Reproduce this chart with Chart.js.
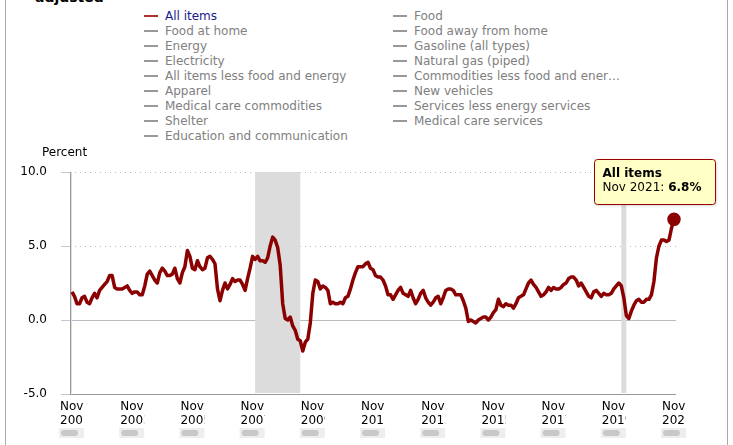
<!DOCTYPE html>
<html>
<head>
<meta charset="utf-8">
<script src="https://cdn.jsdelivr.net/npm/chart.js@4.4.0/dist/chart.umd.min.js"></script>
<style>
  body { margin: 0; background: #fff; font-family: "DejaVu Sans", Verdana, sans-serif; }
  #wrap { position: relative; width: 733px; height: 445px; overflow: hidden; }
  #frame { position: absolute; left: 5px; top: 0; width: 721px; height: 445px;
           border-left: 1px solid #aaa; border-right: 1px solid #aaa; }
  #title { position: absolute; left: 35px; top: -11px; font-weight: bold; font-size: 14px; color: #000; }
  .leg { position: absolute; font-size: 12px; color: #808080; white-space: nowrap; line-height: 15px; }
  .leg span.m { display: inline-block; width: 14px; height: 2px; background: #999;
                vertical-align: middle; margin-right: 7px; position: relative; top: -1px; }
  .leg.on { color: #1a1a8c; }
  .leg.on span.m { background: #b03030; }
  canvas { position: absolute; left: 0; top: 0; }
</style>
</head>
<body>
<div id="wrap">
  <div id="frame"></div>
  <div id="title">adjusted</div>
  <div id="legend"></div>
  <canvas id="cpi" width="733" height="445"></canvas>
</div>
<script>
// 12-month percent change, CPI-U, Nov 2001 .. Nov 2021
const allItems = [
  1.9, 1.6,
  1.1, 1.1, 1.5, 1.6, 1.2, 1.1, 1.5, 1.8, 1.5, 2.0, 2.2, 2.4,
  2.6, 3.0, 3.0, 2.2, 2.1, 2.1, 2.1, 2.2, 2.3, 2.0, 1.8, 1.9,
  1.9, 1.7, 1.7, 2.3, 3.1, 3.3, 3.0, 2.7, 2.5, 3.2, 3.5, 3.3,
  3.0, 3.0, 3.1, 3.5, 2.8, 2.5, 3.2, 3.6, 4.7, 4.3, 3.5, 3.4,
  4.0, 3.6, 3.4, 3.5, 4.2, 4.3, 4.1, 3.8, 2.1, 1.3, 2.0, 2.5,
  2.1, 2.4, 2.8, 2.6, 2.7, 2.7, 2.4, 2.0, 2.8, 3.5, 4.3, 4.1,
  4.3, 4.0, 4.0, 3.9, 4.2, 5.0, 5.6, 5.4, 4.9, 3.7, 1.1, 0.1,
  0.0, 0.2, -0.4, -0.7, -1.3, -1.4, -2.1, -1.5, -1.3, -0.2, 1.8, 2.7,
  2.6, 2.1, 2.3, 2.2, 2.0, 1.1, 1.2, 1.1, 1.1, 1.2, 1.1, 1.5,
  1.6, 2.1, 2.7, 3.2, 3.6, 3.6, 3.6, 3.8, 3.9, 3.5, 3.4, 3.0,
  2.9, 2.9, 2.7, 2.3, 1.7, 1.7, 1.4, 1.7, 2.0, 2.2, 1.8, 1.7,
  1.6, 2.0, 1.5, 1.1, 1.4, 1.8, 2.0, 1.5, 1.2, 1.0, 1.2, 1.5,
  1.6, 1.1, 1.5, 2.0, 2.1, 2.1, 2.0, 1.7, 1.7, 1.7, 1.3, 0.8,
  -0.1, 0.0, -0.1, -0.2, 0.0, 0.1, 0.2, 0.2, 0.0, 0.2, 0.5, 0.7,
  1.4, 1.0, 0.9, 1.1, 1.0, 1.0, 0.8, 1.1, 1.5, 1.6, 1.7, 2.1,
  2.5, 2.7, 2.4, 2.2, 1.9, 1.6, 1.7, 1.9, 2.2, 2.0, 2.2, 2.1,
  2.1, 2.2, 2.4, 2.5, 2.8, 2.9, 2.9, 2.7, 2.3, 2.5, 2.2, 1.9,
  1.6, 1.5, 1.9, 2.0, 1.8, 1.6, 1.8, 1.7, 1.7, 1.8, 2.1, 2.3,
  2.5, 2.3, 1.5, 0.3, 0.1, 0.6, 1.0, 1.3, 1.4, 1.2, 1.2, 1.4,
  1.4, 1.7, 2.6, 4.2, 5.0, 5.4, 5.4, 5.3, 5.4, 6.2, 6.8
];
const startYear = 2001, startMonth = 10; // Nov 2001
const monthNames = ['Jan','Feb','Mar','Apr','May','Jun','Jul','Aug','Sep','Oct','Nov','Dec'];
const monthLabels = allItems.map((v, i) => {
  const m = startMonth + i;
  return monthNames[m % 12] + ' ' + (startYear + Math.floor(m / 12));
});
const tickIdx = [0, 24, 48, 72, 96, 120, 144, 168, 192, 216, 240];
const yTicks = [-5, 0, 5, 10];
// recessions as month index ranges (from Nov 2001)
const recessions = [[-0.8, 0], [73, 91], [219, 221]];

const legendLeft = ['All items', 'Food at home', 'Energy', 'Electricity',
  'All items less food and energy', 'Apparel', 'Medical care commodities',
  'Shelter', 'Education and communication'];
const legendRight = ['Food', 'Food away from home', 'Gasoline (all types)',
  'Natural gas (piped)', 'Commodities less food and ener\u2026', 'New vehicles',
  'Services less energy services', 'Medical care services'];

// legend
const legEl = document.getElementById('legend');
function addLegend(list, left) {
  list.forEach((name, i) => {
    const d = document.createElement('div');
    d.className = 'leg' + (name === 'All items' ? ' on' : '');
    d.style.left = left + 'px';
    d.style.top = (9 + i * 15) + 'px';
    d.innerHTML = '<span class="m"></span>' + name;
    legEl.appendChild(d);
  });
}
addLegend(legendLeft, 144);
addLegend(legendRight, 393);

const lineColor = '#8b0000';

const backdrop = {
  id: 'backdrop',
  beforeDatasetsDraw(chart) {
    const { ctx, chartArea: a, scales: { x, y } } = chart;
    ctx.save();
    // grid lines
    yTicks.forEach(t => {
      const py = Math.round(y.getPixelForValue(t)) + 0.5;
      ctx.beginPath();
      ctx.lineWidth = 1;
      if (t > 0) { ctx.strokeStyle = '#bbb'; ctx.setLineDash([1, 4]); }
      else if (t === 0) { ctx.strokeStyle = '#bbb'; ctx.setLineDash([]); }
      else { ctx.strokeStyle = '#999'; ctx.setLineDash([]); }
      ctx.moveTo(a.left, py); ctx.lineTo(a.right, py);
      ctx.stroke();
      // tick mark
      ctx.setLineDash([]);
      ctx.strokeStyle = '#c2c8da';
      ctx.beginPath();
      ctx.moveTo(a.left - 9, py); ctx.lineTo(a.left, py);
      ctx.stroke();
    });
    // recession shading
    ctx.fillStyle = '#dcdcdc';
    recessions.forEach(([s, e]) => {
      const x0 = x.getPixelForValue(s), x1 = x.getPixelForValue(e);
      ctx.fillRect(x0, a.top, x1 - x0, a.bottom - a.top - 1);
    });
    // left axis
    ctx.strokeStyle = '#999';
    ctx.beginPath();
    ctx.moveTo(a.left + 0.5, a.top); ctx.lineTo(a.left + 0.5, a.bottom);
    ctx.stroke();
    ctx.restore();
  },
  afterDraw(chart) {
    const { ctx, chartArea: a, scales: { x, y } } = chart;
    ctx.save();
    // "Percent" title
    ctx.font = '12px "DejaVu Sans"';
    ctx.fillStyle = '#000';
    ctx.textBaseline = 'middle';
    ctx.fillText('Percent', 42, 153);
    // x tick labels, clipped like the original
    tickIdx.forEach(i => {
      const px = x.getPixelForValue(i);
      const lbl = monthLabels[i].split(' ');
      ctx.save();
      ctx.beginPath();
      ctx.rect(px - 13, a.bottom + 2, 25, 30);
      ctx.clip();
      ctx.fillStyle = '#000';
      ctx.textAlign = 'left';
      ctx.fillText(lbl[0], px - 12, a.bottom + 13);
      ctx.fillText(lbl[1], px - 12, a.bottom + 27);
      ctx.restore();
      // little scroll pill
      ctx.fillStyle = '#eeeeee';
      ctx.fillRect(px - 13, a.bottom + 34, 25, 10);
      ctx.fillStyle = '#c8c8c8';
      ctx.beginPath();
      ctx.roundRect(px - 11, a.bottom + 36, 17, 6, 3);
      ctx.fill();
    });
    // tooltip for the last point
    const last = allItems.length - 1;
    const px = x.getPixelForValue(last), py = y.getPixelForValue(allItems[last]);
    const bx = Math.round(px - 80) + 0.5, by = Math.round(py - 60) + 0.5;
    ctx.shadowColor = 'rgba(0,0,0,0.2)';
    ctx.shadowBlur = 3; ctx.shadowOffsetX = 1; ctx.shadowOffsetY = 1;
    ctx.fillStyle = '#ffffc6';
    ctx.beginPath();
    ctx.roundRect(bx, by, 121, 45, 3);
    ctx.fill();
    ctx.shadowColor = 'transparent';
    ctx.strokeStyle = '#990000';
    ctx.lineWidth = 1;
    ctx.stroke();
    ctx.fillStyle = '#000';
    ctx.textAlign = 'left';
    ctx.font = 'bold 12px "DejaVu Sans"';
    ctx.fillText('All items', bx + 8, by + 14);
    ctx.font = '12px "DejaVu Sans"';
    const pre = monthLabels[last] + ': ';
    ctx.fillText(pre, bx + 8, by + 28);
    const w = ctx.measureText(pre).width;
    ctx.font = 'bold 12px "DejaVu Sans"';
    ctx.fillText(allItems[last].toFixed(1) + '%', bx + 8 + w, by + 28);
    ctx.restore();
  }
};

new Chart(document.getElementById('cpi'), {
  type: 'line',
  data: {
    datasets: [{
      label: 'All items',
      data: allItems.map((v, i) => ({ x: i, y: v })),
      borderColor: lineColor,
      backgroundColor: lineColor,
      borderWidth: 3.5,
      tension: 0,
      clip: false,
      pointRadius: allItems.map((v, i) => i === allItems.length - 1 ? 5 : 0),
      pointHoverRadius: 0,
      borderJoinStyle: 'round'
    }]
  },
  options: {
    responsive: false,
    animation: false,
    devicePixelRatio: 1,
    layout: { padding: { left: 0, top: 172, right: 57, bottom: 51 } },
    plugins: { legend: { display: false }, tooltip: { enabled: false } },
    events: [],
    scales: {
      x: {
        type: 'linear', min: -0.8, max: 240.8,
        grid: { display: false }, border: { display: false },
        ticks: { display: false },
        afterFit: s => { s.height = 0; }
      },
      y: {
        min: -5, max: 10,
        grid: { display: false }, border: { display: false },
        ticks: {
          stepSize: 5, padding: 15, color: '#000',
          font: { family: 'DejaVu Sans', size: 12 },
          callback: v => v.toFixed(1)
        },
        afterFit: s => { s.width = 70; }
      }
    }
  },
  plugins: [backdrop]
});
</script>
</body>
</html>
